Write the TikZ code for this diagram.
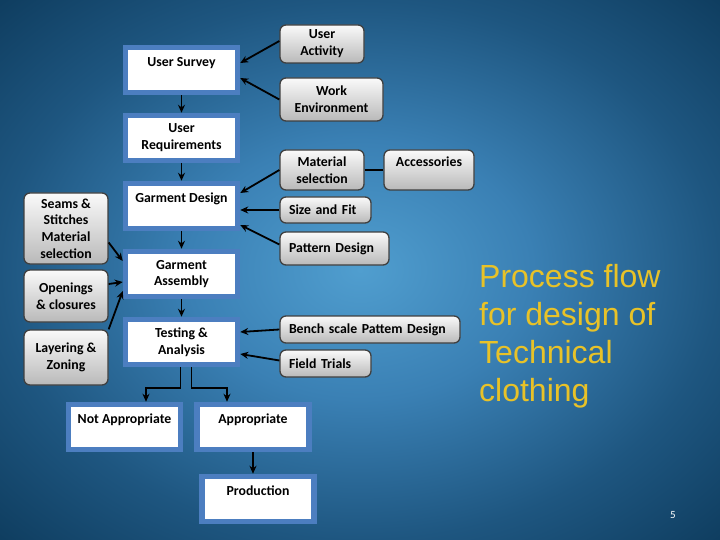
\documentclass[tikz,border=0pt]{standalone}
\usepackage{fontspec}
\setmainfont{Carlito}
\newfontfamily\titlefont{Liberation Sans}
\usetikzlibrary{shapes.geometric, arrows, arrows.meta}
\definecolor{frameblue}{RGB}{76,126,192}
\definecolor{titleyellow}{RGB}{232,194,40}
\definecolor{bgin}{RGB}{80,158,207}
\definecolor{bgmid}{RGB}{58,128,180}
\definecolor{bgout}{RGB}{30,86,128}
\definecolor{bgcorner}{RGB}{14,60,94}
\pgfdeclareradialshading{slideshade}{\pgfpoint{0bp}{0bp}}{color(0bp)=(bgin); color(12bp)=(bgmid); color(25bp)=(bgout); color(36bp)=(bgcorner); color(50bp)=(bgcorner)}
\newcommand{\boxfont}{\bfseries\fontsize{13.8}{16.8}\selectfont}
\tikzstyle{frame} = [rectangle, minimum width=112pt, minimum height=45pt, line width=5.5pt, draw=frameblue, fill=white, align=center, font=\boxfont]
\tikzstyle{grey} = [rectangle, rounded corners=6pt, minimum width=84pt, draw=gray!50!black, line width=1.3pt, top color=gray!4, bottom color=gray!55, align=center, inner sep=1pt, font=\boxfont]
\tikzstyle{greyleft} = [grey, align=left, inner xsep=9pt, minimum width=0pt]
\tikzstyle{arrow} = [line width=1.8pt,-{Stealth[length=8pt,width=7pt]}]
\tikzstyle{link} = [line width=1.6pt]

\begin{document}
\begin{tikzpicture}[x=1pt, y=1pt, node distance=68pt]
	\shade [shading=slideshade] (0,0) rectangle (720,-540);
	\useasboundingbox (0,0) rectangle (720,-540);
	% main flow
	\node (survey) [frame] at (181.5,-70) {User Survey\\~};
	\node (req) [frame, below of=survey] {User\\Requirements};
	\node (design) [frame, below of=req] {Garment Design\\~};
	\node (assembly) [frame, below of=design] {Garment\\Assembly};
	\node (testing) [frame, below of=assembly] {Testing \&\\Analysis};
	\node (notapp) [frame] at (124.5,-427) {Not Appropriate\\~};
	\node (app) [frame] at (253,-427) {Appropriate\\~};
	\node (production) [frame] at (258,-499) {Production\\~};
	% inputs
	\node (activity) [grey, minimum height=38pt] at (322,-44) {User\\Activity};
	\node (workenv) [grey, minimum width=103pt, minimum height=43pt] at (331.5,-99.5) {Work\\Environment};
	\node (material) [grey, minimum height=40pt] at (322,-170) {Material\\selection};
	\node (accessories) [grey, minimum width=90pt, minimum height=40pt] at (429,-170) {Accessories\\~};
	\node (sizefit) [greyleft, text width=73pt, minimum height=26pt] at (325.5,-210) {Size and Fit};
	\node (pattern) [greyleft, text width=91pt, minimum height=33pt] at (334.5,-248.5) {Pattern Design};
	\node (bench) [greyleft, text width=162pt, minimum height=27pt] at (370,-329.5) {Bench scale Pattem Design};
	\node (field) [greyleft, text width=73pt, minimum height=27pt] at (325.5,-363.5) {Field Trials};
	\node (seams) [grey, minimum height=71pt] at (66,-228.5) {Seams \&\\Stitches\\Material\\selection};
	\node (openings) [grey, minimum height=52pt] at (66,-296) {Openings\\\& closures};
	\node (layering) [grey, minimum height=55pt] at (66,-357.5) {Layering \&\\Zoning};
	\node (title) [anchor=north west, inner sep=0pt, align=left, text=titleyellow, font=\titlefont\fontsize{32}{38}\selectfont] at (479,-264) {Process flow\\for design of\\Technical\\clothing};
	\node (pagenum) [text=white, font=\fontsize{11}{13}\selectfont] at (673,-515) {5};
	\draw [arrow] (survey) -- (req);
	\draw [arrow] ([yshift=3pt]activity.west) -- ([yshift=7pt]survey.east);
	\draw [arrow] (workenv.west) -- ([yshift=-8pt]survey.east);
	\draw [arrow] (req) -- (design);
	\draw [arrow] (material.west) -- ([yshift=13pt]design.east);
	\draw [link] (material) -- (accessories);
	\draw [arrow] (sizefit.west) -- (sizefit.west -| design.east);
	\draw [arrow] ([yshift=4pt]pattern.west) -- ([yshift=-19pt]design.east);
	\draw [arrow] (design) -- (assembly);
	\draw [arrow] ([yshift=-14pt]seams.east) -- ([yshift=13pt]assembly.west);
	\draw [arrow] ([yshift=12pt]openings.east) -- ([yshift=-8pt]assembly.west);
	\draw [arrow] (layering.north east) -- ([yshift=-17pt]assembly.west);
	\draw [arrow] (assembly) -- (testing);
	\draw [arrow] (bench.west) -- ([yshift=10pt]testing.east);
	\draw [arrow] ([yshift=3pt]field.west) -- ([yshift=-12pt]testing.east);
	\draw [arrow] ([xshift=-1pt]testing.south) -- ++(0,-21) -| ([xshift=21.5pt]notapp.north);
	\draw [arrow] ([xshift=10pt]testing.south) -- ++(0,-21) -| ([xshift=-26pt]app.north);
	\draw [arrow] (app.south) -- (app.south |- production.north);
\end{tikzpicture}
\end{document}
